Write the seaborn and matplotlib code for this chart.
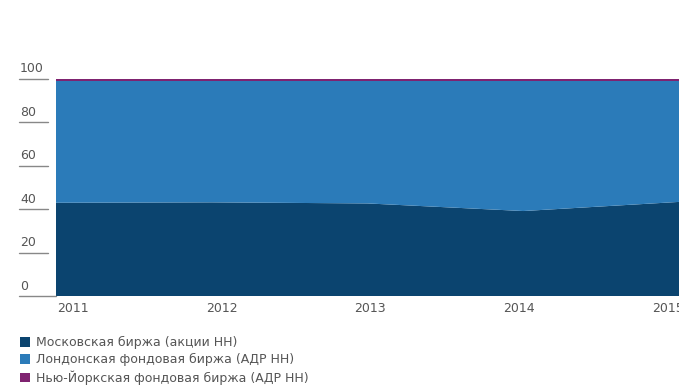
import matplotlib.pyplot as plt
import matplotlib.transforms as mtransforms
from matplotlib.patches import Patch
import seaborn as sns
import pandas as pd

years = [2011, 2012, 2013, 2014, 2015]
moscow = [42.9, 43.1, 42.6, 39.1, 43.3]
london = [56.1, 55.9, 56.4, 59.9, 55.7]
new_york = [1.0, 1.0, 1.0, 1.0, 1.0]
series_names = ['Московская биржа (акции НН)',
                'Лондонская фондовая биржа (АДР НН)',
                'Нью-Йоркская фондовая биржа (АДР НН)']
colors = ['#0b446f', '#2b7bb9', '#7f2370']
y_ticks = [0, 20, 40, 60, 80, 100]

df = pd.DataFrame({'year': years, 'moscow': moscow, 'london': london, 'ny': new_york})

sns.set_style('white')
plt.rcParams['font.family'] = ['DejaVu Sans']

W, H = 679, 392
fig = plt.figure(figsize=(W / 100, H / 100), dpi=100)
ax = fig.add_axes([56 / W, (H - 296) / H, 1 - 56 / W, (296 - 78.7) / H])

ax.stackplot(df['year'], df['moscow'], df['london'], df['ny'], colors=colors,
             linewidth=0, edgecolor='none')
ax.set_xlim(2011, 2015)
ax.set_ylim(0, 100)
sns.despine(ax=ax, left=True, top=True, right=True, bottom=True)
ax.set_xticks([])
ax.set_yticks([])

grey = '#555555'
# y labels sitting on short rules at the left
tr = mtransforms.blended_transform_factory(fig.transFigure, ax.transData)
for v in y_ticks:
    x_end = 56 if v == 0 else 48
    ax.plot([19 / W, x_end / W], [v, v], transform=tr, color='#888888', lw=1, clip_on=False)
    ax.text(20 / W, v + 1.5, str(v), transform=tr, ha='left', va='bottom',
            fontsize=9, color=grey)

# x labels
trx = mtransforms.blended_transform_factory(fig.transFigure, fig.transFigure)
for k, yr in enumerate(years):
    ax.text((57 + 148.7 * k) / W, (H - 309) / H, str(yr), transform=trx,
            ha='left', va='center', fontsize=9, color=grey)

handles = [Patch(facecolor=c, edgecolor='none') for c in colors]
fig.legend(handles, series_names, loc='upper left', bbox_to_anchor=(20 / W, (H - 336) / H),
           frameon=False, fontsize=9, labelcolor=grey, handlelength=0.8, handleheight=0.8,
           handletextpad=0.5, labelspacing=0.33, borderaxespad=0, borderpad=0)

fig.savefig('out.png', dpi=100)
